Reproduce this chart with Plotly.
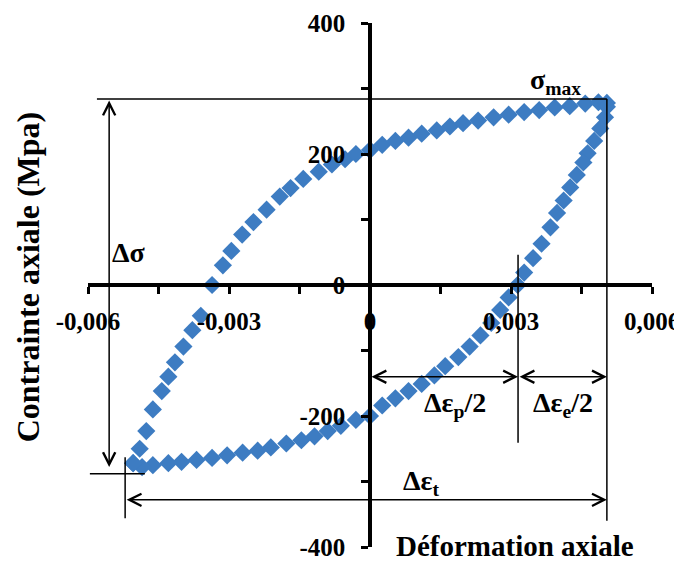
import plotly.graph_objects as go

# Loading branch (from sigma_min up to sigma_max)
load_strain = [-0.00504, -0.00490, -0.00476, -0.00462, -0.00443, -0.00429, -0.00415, -0.00397,
               -0.00378, -0.00360, -0.00336, -0.00313, -0.00295, -0.00272, -0.00248, -0.00220,
               -0.00192, -0.00169, -0.00142, -0.00109, -0.00081, -0.00053, -0.00030, 0.00000,
               0.00026, 0.00054, 0.00082, 0.00110, 0.00142, 0.00170, 0.00198, 0.00230,
               0.00263, 0.00295, 0.00328, 0.00360, 0.00393, 0.00425, 0.00458, 0.00486, 0.00504]
load_stress = [-272, -250, -223, -190, -162, -140, -118, -94,
               -69, -47, 0, 30, 52, 77, 96, 115,
               135, 148, 162, 173, 184, 192, 200, 206,
               214, 220, 225, 231, 236, 242, 247, 251,
               256, 260, 264, 267, 271, 273, 277, 279, 278]

# Unloading branch (from sigma_max down to sigma_min)
unload_strain = [0.00504, 0.00500, 0.00490, 0.00477, 0.00463, 0.00454, 0.00440, 0.00426,
                 0.00412, 0.00398, 0.00384, 0.00365, 0.00347, 0.00328, 0.00314, 0.00295,
                 0.00277, 0.00258, 0.00235, 0.00212, 0.00188, 0.00160, 0.00137, 0.00110,
                 0.00082, 0.00054, 0.00026, 0.00000, -0.00030, -0.00062, -0.00090, -0.00118,
                 -0.00146, -0.00178, -0.00211, -0.00239, -0.00271, -0.00304, -0.00336, -0.00369,
                 -0.00401, -0.00429, -0.00462, -0.00485, -0.00504]
unload_stress = [272, 256, 239, 220, 201, 187, 168, 149,
                 129, 110, 88, 63, 41, 19, 0, -19,
                 -38, -58, -77, -94, -110, -124, -138, -151,
                 -162, -173, -184, -200, -206, -215, -223, -231,
                 -237, -242, -248, -253, -256, -260, -264, -267,
                 -270, -272, -275, -278, -272]

x_tickvals = [-0.006, -0.003, 0, 0.003, 0.006]
x_ticktext = ["-0,006", "-0,003", "0", "0,003", "0,006"]
x_minorvals = [-0.0045, -0.0015, 0.0015, 0.0045]
y_tickvals = [-400, -200, 0, 200, 400]
y_ticktext = ["-400", "-200", "0", "200", "400"]
y_minorvals = [-300, -100, 100, 300]

# Key levels of the loop (annotation guides)
sig_max_line = 284
sig_min_line = -288
eps_max = 0.00504
eps_min = -0.00521
eps_split = 0.00315

FONT = "Liberation Serif"
BLUE = "#3D7CC2"

fig = go.Figure()
fig.add_trace(go.Scatter(x=load_strain + unload_strain, y=load_stress + unload_stress,
                         mode="markers",
                         marker=dict(symbol="diamond", size=14, color=BLUE, line=dict(width=0)),
                         showlegend=False, hoverinfo="skip"))

line_style = dict(color="black", width=1.5)
shapes = [
    dict(type="line", x0=-0.00581, x1=eps_max, y0=sig_max_line, y1=sig_max_line, line=line_style),
    dict(type="line", x0=eps_max, x1=eps_max, y0=sig_max_line, y1=-360, line=line_style),
    dict(type="line", x0=-0.00596, x1=-0.00479, y0=sig_min_line, y1=sig_min_line, line=line_style),
    dict(type="line", x0=eps_min, x1=eps_min, y0=-263, y1=-356, line=line_style),
    dict(type="line", x0=eps_split, x1=eps_split, y0=46, y1=-241, line=line_style),
]
for s in shapes:
    s.update(xref="x", yref="y", layer="above")

annotations = []

def double_arrow(x0, y0, x1, y1):
    annotations.append(dict(x=x1, y=y1, ax=x0, ay=y0, xref="x", yref="y", axref="x", ayref="y",
                            text="", showarrow=True, arrowside="end+start",
                            arrowhead=5, startarrowhead=5, arrowsize=1.6, startarrowsize=1.6,
                            arrowwidth=1.5, arrowcolor="black", standoff=0, startstandoff=0))

double_arrow(-0.00555, sig_max_line, -0.00555, -278)
double_arrow(0, -140, eps_split, -140)
double_arrow(eps_split, -140, eps_max, -140)
double_arrow(eps_min, -328, eps_max, -328)

def label(text, x, y, size=28):
    annotations.append(dict(x=x, y=y, xref="x", yref="y", text=text, showarrow=False,
                            font=dict(family=FONT, size=size, color="black"),
                            xanchor="center", yanchor="middle"))

label("<b>Δσ</b>", -0.00512, 49)
label("<b>σ<sub>max</sub></b>", 0.00394, 311)
label("<b>σ<sub>min</sub></b>", -0.00623, -302)
label("<b>Δε<sub>p</sub>/2</b>", 0.00181, -182)
label("<b>Δε<sub>e</sub>/2</b>", 0.00410, -182)
label("<b>Δε<sub>t</sub></b>", 0.00109, -302)

annotations.append(dict(x=-0.106, y=0.515, xref="paper", yref="paper", text="<b>Contrainte axiale (Mpa)</b>",
                        textangle=-90, showarrow=False, xanchor="center", yanchor="middle",
                        font=dict(family=FONT, size=32, color="black")))
annotations.append(dict(x=0.757, y=0.002, xref="paper", yref="paper", text="<b>Déformation axiale</b>",
                        showarrow=False, xanchor="center", yanchor="middle",
                        font=dict(family=FONT, size=29, color="black")))

axis_common = dict(showgrid=False, zeroline=False, showline=True, linecolor="black", linewidth=3.5,
                   ticks="outside", ticklen=7, tickwidth=3, tickcolor="black",
                   tickfont=dict(family=FONT, size=25, color="black", weight="bold"),
                   anchor="free", position=0.5, tickmode="array", automargin=False)
minor_common = dict(ticks="outside", ticklen=7, tickwidth=3, tickcolor="black",
                    tickmode="array", showgrid=False)

# The page body adds an 8 px offset, so the figure is 8 px smaller than the window
fig.update_layout(
    width=674, height=557,
    margin=dict(l=80, r=30, t=15, b=18, autoexpand=False),
    paper_bgcolor="white", plot_bgcolor="white",
    xaxis=dict(range=[-0.006, 0.006], tickvals=x_tickvals, ticktext=x_ticktext,
               minor=dict(tickvals=x_minorvals, **minor_common),
               ticklabelstandoff=6, **axis_common),
    yaxis=dict(range=[-400, 400], tickvals=y_tickvals, ticktext=y_ticktext,
               minor=dict(tickvals=y_minorvals, **minor_common),
               ticklabelstandoff=11, **axis_common),
    shapes=shapes,
    annotations=annotations,
    font=dict(family=FONT, color="black"),
)

fig.write_html("out.html")
